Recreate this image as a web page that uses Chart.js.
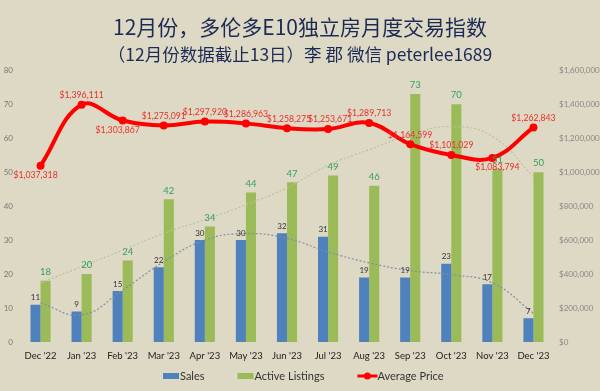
<!DOCTYPE html>
<html lang="zh">
<head>
<meta charset="utf-8">
<title>多伦多E10独立房月度交易指数</title>
<script src="https://cdn.jsdelivr.net/npm/chart.js@4"></script>
<style>
  html, body { margin: 0; padding: 0; background: #ddd9c4; }
  #wrap { width: 600px; height: 391px; }
</style>
</head>
<body>
<div id="wrap"><canvas id="chart"></canvas></div>
<script>
// data
var months = ["Dec '22", "Jan '23", "Feb '23", "Mar '23", "Apr '23", "May '23", "Jun '23",
              "Jul '23", "Aug '23", "Sep '23", "Oct '23", "Nov '23", "Dec '23"];
var sales = [11, 9, 15, 22, 30, 30, 32, 31, 19, 19, 23, 17, 7];
var listings = [18, 20, 24, 42, 34, 44, 47, 49, 46, 73, 70, 51, 50];
var avgPrice = [1037318, 1396111, 1303867, 1275091, 1297920, 1286963, 1258275,
                1253671, 1289713, 1164599, 1101029, 1083794, 1262843];
// dotted trend lines at each month
var salesTrend = [11.5, 8, 15.3, 23.6, 30, 31.9, 30.5, 26.5, 23.3, 21, 19.8, 17.4, 8.5];
var listingsTrend = [17.4, 22.2, 27, 32, 36, 40.4, 45.4, 52, 56.6, 61, 63.4, 60.5, 48.7];

// above / below for each price label
var priceLabelSide = ['below', 'above', 'below', 'above', 'above', 'above', 'above',
                      'above', 'above', 'above', 'above', 'below', 'above'];
var priceLabelShift = [-5, 0, -5, 0, 0, 0, 2, 2, 0, 0, 0, 5, 0];

var FONT = '"Lato", sans-serif';

function money(v) { return '$' + Math.round(v).toLocaleString('en-US'); }

var labelPlugin = {
  id: 'valueLabels',
  afterDatasetsDraw: function(chart) {
    var ctx = chart.ctx;
    ctx.save();
    ctx.textAlign = 'center';
    // sales
    var m0 = chart.getDatasetMeta(0);
    ctx.font = '8px ' + FONT;
    ctx.fillStyle = '#333333';
    ctx.textBaseline = 'bottom';
    m0.data.forEach(function(el, i) { ctx.fillText(sales[i], el.x, el.y - 3); });
    // listings
    var m1 = chart.getDatasetMeta(1);
    ctx.font = '9.5px ' + FONT;
    ctx.fillStyle = '#35a05a';
    m1.data.forEach(function(el, i) { ctx.fillText(listings[i], el.x, el.y - 4); });
    // price
    var m2 = chart.getDatasetMeta(2);
    ctx.font = '8.7px ' + FONT;
    ctx.fillStyle = '#e8302c';
    m2.data.forEach(function(el, i) {
      var x = el.x + priceLabelShift[i];
      if (priceLabelSide[i] === 'above') {
        ctx.textBaseline = 'bottom';
        ctx.fillText(money(avgPrice[i]), x, el.y - 5);
      } else {
        ctx.textBaseline = 'top';
        ctx.fillText(money(avgPrice[i]), x, el.y + 5);
      }
    });
    ctx.restore();
  }
};

// legend drawn by hand so the line item can carry its dot
var legendPlugin = {
  id: 'handLegend',
  afterDraw: function(chart) {
    var ctx = chart.ctx;
    var y = 376;
    var x = 163;
    ctx.save();
    ctx.font = '11px ' + FONT;
    ctx.textBaseline = 'middle';
    ctx.textAlign = 'left';
    [['Sales', '#4f81bd'], ['Active Listings', '#9bbb59']].forEach(function(it) {
      ctx.fillStyle = it[1];
      ctx.fillRect(x, y - 3, 16, 6);
      ctx.fillStyle = '#333333';
      ctx.fillText(it[0], x + 17, y);
      x += 17 + ctx.measureText(it[0]).width + 33;
    });
    ctx.strokeStyle = '#ff0000';
    ctx.lineWidth = 3;
    ctx.beginPath();
    ctx.moveTo(x, y);
    ctx.lineTo(x + 20, y);
    ctx.stroke();
    ctx.fillStyle = '#ff0000';
    ctx.beginPath();
    ctx.arc(x + 10, y, 3.5, 0, Math.PI * 2);
    ctx.fill();
    ctx.fillStyle = '#333333';
    ctx.fillText('Average Price', x + 20, y);
    ctx.restore();
  }
};

var ctx = document.getElementById('chart').getContext('2d');
var chart = new Chart(ctx, {
  type: 'bar',
  data: {
    labels: months,
    datasets: [{
      label: 'Sales',
      data: sales,
      backgroundColor: '#4f81bd',
      yAxisID: 'y',
      order: 3,
      categoryPercentage: 0.49,
      barPercentage: 1
    }, {
      label: 'Active Listings',
      data: listings,
      backgroundColor: '#9bbb59',
      yAxisID: 'y',
      order: 3,
      categoryPercentage: 0.49,
      barPercentage: 1
    }, {
      type: 'line',
      label: 'Average Price',
      data: avgPrice,
      borderColor: '#ff0000',
      backgroundColor: '#ff0000',
      borderWidth: 4,
      pointRadius: 4,
      pointBorderWidth: 0,
      tension: 0.4,
      yAxisID: 'y1',
      order: 0
    }, {
      type: 'line',
      label: 'salesTrend',
      data: salesTrend,
      borderColor: '#7f8ea6',
      borderWidth: 1.2,
      borderDash: [2, 2],
      pointRadius: 0,
      tension: 0.45,
      yAxisID: 'y',
      order: 1
    }, {
      type: 'line',
      label: 'listingsTrend',
      data: listingsTrend,
      borderColor: '#b9c49a',
      borderWidth: 1.2,
      borderDash: [2, 2],
      pointRadius: 0,
      tension: 0.45,
      yAxisID: 'y',
      order: 1
    }]
  },
  options: {
    responsive: true,
    maintainAspectRatio: false,
    animation: false,
    layout: { padding: { top: 14, bottom: 29, left: 0, right: 0 } },
    plugins: {
      title: {
        display: true,
        text: '12月份，多伦多E10独立房月度交易指数',
        color: '#1c2a55',
        font: { family: '"Noto Sans CJK SC", sans-serif', size: 21, weight: 'normal' },
        padding: { top: 0, bottom: 5 }
      },
      subtitle: {
        display: true,
        text: '（12月份数据截止13日）李 郡 微信 peterlee1689',
        color: '#1c2a55',
        font: { family: '"Noto Sans CJK SC", sans-serif', size: 17.5, weight: 'normal' },
        padding: { top: 0, bottom: 5 }
      },
      legend: { display: false },
      tooltip: { enabled: false }
    },
    scales: {
      x: {
        grid: { display: false },
        border: { display: false },
        ticks: { color: '#222222', font: { family: FONT, size: 9.5 }, maxRotation: 0, autoSkip: false, padding: 0 },
        afterFit: function(s) { s.height = 20; }
      },
      y: {
        position: 'left',
        min: 0, max: 80,
        ticks: { stepSize: 10, color: '#777777', padding: 7, font: { family: FONT, size: 8 } },
        grid: { display: false, drawTicks: false },
        border: { display: false },
        afterFit: function(s) { s.width = 20; }
      },
      y1: {
        position: 'right',
        min: 0, max: 1600000,
        ticks: { stepSize: 200000, color: '#888888', padding: 5,
                 font: { family: FONT, size: 8 },
                 callback: function(v) { return money(v); } },
        grid: { display: false, drawTicks: false },
        border: { display: false },
        afterFit: function(s) { s.width = 46; }
      }
    }
  },
  plugins: [labelPlugin, legendPlugin]
});
</script>
</body>
</html>
